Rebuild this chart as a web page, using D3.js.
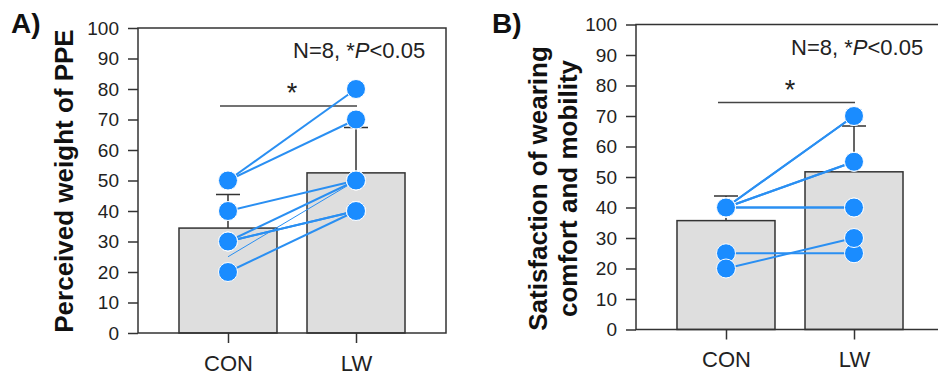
<!DOCTYPE html>
<meta charset="utf-8">
<script src="https://d3js.org/d3.v7.js"></script>
<style>
  body { margin: 0; background: #fff; }
  text { font-family: "Liberation Sans", Arial, sans-serif; }
</style>
<div id="chart"></div>
<script>

// groups and axis ticks
const cats = ["CON", "LW"];
const yTicks = [0, 10, 20, 30, 40, 50, 60, 70, 80, 90, 100];

// A) perceived weight of PPE, one entry per subject (N=8)
const weightCON = [50, 50, 40, 30, 30, 30, 25, 20];
const weightLW  = [80, 70, 50, 50, 40, 40, 50, 40];
const weightMean = [34.4, 52.5];
const weightSD   = [11.0, 14.9];

// B) satisfaction of wearing comfort and mobility
const satisCON = [40, 40, 40, 40, 40, 40, 25, 20];
const satisLW  = [70, 70, 55, 55, 40, 40, 25, 30];
const satisMean = [35.7, 51.7];
const satisSD   = [8.1, 15.0];

const W = 938, H = 377;
const pw = 308, ph = 305;

const svg = d3.select("#chart").append("svg")
    .attr("width", W)
    .attr("height", H);

function panel(opt) {
  const g = svg.append("g")
      .attr("transform", `translate(${opt.left},${opt.top})`);

  const x = d3.scalePoint().domain(cats).range([0, pw]).padding(0.703);
  const y = d3.scaleLinear().domain([0, 100]).range([ph, 0]);
  const barW = 98;

  // y axis
  const ya = g.append("g")
      .call(d3.axisLeft(y).tickValues(yTicks).tickSize(10).tickPadding(9));
  ya.select(".domain").remove();
  ya.selectAll("line").attr("stroke", "#333").attr("stroke-width", 1.5);
  ya.selectAll("text").attr("font-size", 19).attr("fill", "#222")
      .attr("font-family", "Liberation Sans, Arial, sans-serif");

  // x axis
  const xa = g.append("g")
      .attr("transform", `translate(0,${ph})`)
      .call(d3.axisBottom(x).tickSize(10).tickPadding(12));
  xa.select(".domain").remove();
  xa.selectAll("line").attr("stroke", "#333").attr("stroke-width", 1.5);
  xa.selectAll("text").attr("font-size", 22).attr("fill", "#222")
      .attr("font-family", "Liberation Sans, Arial, sans-serif");

  // bars
  const stats = cats.map((c, i) => ({cat: c, mean: opt.mean[i], sd: opt.sd[i]}));
  g.selectAll(".bar")
    .data(stats)
    .join("rect")
      .attr("class", "bar")
      .attr("x", d => x(d.cat) - barW / 2)
      .attr("width", barW)
      .attr("y", d => y(d.mean))
      .attr("height", d => ph - y(d.mean))
      .attr("fill", "#dedede")
      .attr("stroke", "#333")
      .attr("stroke-width", 1.5);

  // error bars (mean + SD)
  g.selectAll(".err")
    .data(stats)
    .join("path")
      .attr("class", "err")
      .attr("d", d => `M${x(d.cat)},${y(d.mean)}V${y(d.mean + d.sd)}` +
                      `M${x(d.cat) - 12},${y(d.mean + d.sd)}h24`)
      .attr("fill", "none")
      .attr("stroke", "#333")
      .attr("stroke-width", 1.5);

  // frame
  g.append("rect")
      .attr("width", pw).attr("height", ph)
      .attr("fill", "none")
      .attr("stroke", "#333")
      .attr("stroke-width", 1.5);

  // significance bracket
  g.append("line")
      .attr("x1", x("CON") - 8).attr("x2", x("LW") + 1)
      .attr("y1", y(74.4)).attr("y2", y(74.4))
      .attr("stroke", "#444").attr("stroke-width", 1.5);
  g.append("text")
      .attr("x", (x("CON") + x("LW")) / 2)
      .attr("y", y(74.4) - 4)
      .attr("text-anchor", "middle")
      .attr("font-size", 27)
      .attr("fill", "#222")
      .text("*");

  // paired subject lines
  const pairs = opt.con.map((v, i) => ({a: v, b: opt.lw[i], faint: opt.faint.includes(i)}));
  g.selectAll(".pair")
    .data(pairs)
    .join("line")
      .attr("class", "pair")
      .attr("x1", x("CON")).attr("y1", d => y(d.a))
      .attr("x2", x("LW")).attr("y2", d => y(d.b))
      .attr("stroke", "#2a8ff2")
      .attr("stroke-width", d => d.faint ? 1 : 2);

  // dots
  const pts = [];
  pairs.forEach(d => {
    if (!d.faint) pts.push({cat: "CON", v: d.a});
    pts.push({cat: "LW", v: d.b});
  });
  g.selectAll(".dot")
    .data(pts)
    .join("circle")
      .attr("class", "dot")
      .attr("cx", d => x(d.cat))
      .attr("cy", d => y(d.v))
      .attr("r", 9.5)
      .attr("fill", "#1a8cff")
      .attr("stroke", "#fff")
      .attr("stroke-width", 1);

  // note
  const note = g.append("text")
      .attr("x", 155).attr("y", 30)
      .attr("font-size", 22)
      .attr("fill", "#222");
  note.append("tspan").text("N=8, *");
  note.append("tspan").attr("font-style", "italic").text("P");
  note.append("tspan").text("<0.05");

  // y label
  const lab = g.append("text")
      .attr("transform", `translate(${opt.labX},${opt.labY}) rotate(-90)`)
      .attr("text-anchor", "middle")
      .attr("font-size", 26)
      .attr("font-weight", "bold")
      .attr("fill", "#111");
  opt.label.forEach((t, i) => {
    lab.append("tspan").attr("x", 0).attr("y", i * opt.labGap).text(t);
  });

  // panel letter
  svg.append("text")
      .attr("x", opt.letterX).attr("y", 33)
      .attr("font-size", 28)
      .attr("font-weight", "bold")
      .attr("fill", "#111")
      .text(opt.letter);
}

panel({
  left: 138, top: 28,
  con: weightCON, lw: weightLW, mean: weightMean, sd: weightSD,
  faint: [6],
  label: ["Perceived weight of PPE"], labX: -65, labY: 153, labGap: 0,
  letter: "A)", letterX: 11
});

panel({
  left: 636, top: 24.5,
  con: satisCON, lw: satisLW, mean: satisMean, sd: satisSD,
  faint: [],
  label: ["Satisfaction of wearing", "comfort and mobility"], labX: -89, labY: 164, labGap: 30,
  letter: "B)", letterX: 492
});
</script>
